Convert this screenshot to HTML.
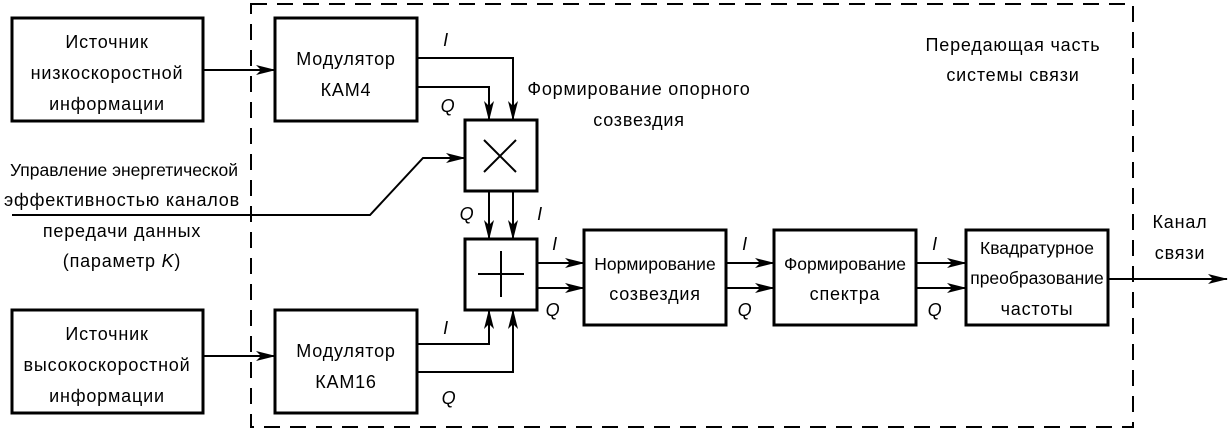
<!DOCTYPE html>
<html><head><meta charset="utf-8"><style>
html,body{margin:0;padding:0;background:#fff}
svg text{font-family:"Liberation Sans",sans-serif;font-size:18px;letter-spacing:0.8px;fill:#000}
svg text.t{letter-spacing:0px;font-size:17.5px}
</style></head><body>
<svg width="1229" height="431" xmlns="http://www.w3.org/2000/svg">
<defs><marker id="a" markerWidth="20" markerHeight="10" refX="19" refY="5" orient="auto" markerUnits="userSpaceOnUse"><path d="M0,0 L20,5 L0,10 L5,5 Z" fill="#000"/></marker></defs>
<rect x="251" y="4" width="882" height="423" fill="none" stroke="#000" stroke-width="2" stroke-dasharray="16,10"/>
<g fill="none" stroke="#000" stroke-width="3">
<rect x="12" y="18" width="191" height="103"/>
<rect x="275" y="18" width="142" height="103"/>
<rect x="465" y="120" width="72" height="71"/>
<rect x="465" y="239" width="72" height="71"/>
<rect x="584" y="230" width="142" height="95"/>
<rect x="774" y="230" width="142" height="95"/>
<rect x="966" y="230" width="142" height="95"/>
<rect x="12" y="310" width="191" height="103"/>
<rect x="275" y="310" width="142" height="103"/>
</g>
<g stroke="#000" stroke-width="2" fill="none">
<path d="M484,140 L516,172 M516,140 L484,172"/>
<path d="M478,274 L524,274 M501,251 L501,297"/>
<path d="M203,70 L275,70" marker-end="url(#a)"/>
<path d="M203,356 L275,356" marker-end="url(#a)"/>
<path d="M417,58 L513,58 L513,120" marker-end="url(#a)"/>
<path d="M417,87 L489,87 L489,120" marker-end="url(#a)"/>
<path d="M12,215 L370,215 L423,158 L465,158" marker-end="url(#a)"/>
<path d="M489,191 L489,239" marker-end="url(#a)"/>
<path d="M513,191 L513,239" marker-end="url(#a)"/>
<path d="M417,344 L489,344 L489,310" marker-end="url(#a)"/>
<path d="M417,372 L513,372 L513,310" marker-end="url(#a)"/>
<path d="M537,263 L584,263" marker-end="url(#a)"/>
<path d="M537,288 L584,288" marker-end="url(#a)"/>
<path d="M726,263 L774,263" marker-end="url(#a)"/>
<path d="M726,288 L774,288" marker-end="url(#a)"/>
<path d="M916,263 L966,263" marker-end="url(#a)"/>
<path d="M916,288 L966,288" marker-end="url(#a)"/>
<path d="M1108,279 L1227,279" marker-end="url(#a)"/>
</g>
<g text-anchor="middle">
<text x="107" y="48">Источник</text><text x="107" y="79">низкоскоростной</text><text x="107" y="110">информации</text>
<text x="346" y="65">Модулятор</text><text x="346" y="96">КАМ4</text>
<text x="639" y="95">Формирование опорного</text><text x="639" y="126">созвездия</text>
<text x="1013" y="51">Передающая часть</text><text x="1013" y="81">системы связи</text>
<text x="124" y="176" class="t">Управление энергетической</text><text x="122" y="206">эффективностью каналов</text>
<text x="122" y="237">передачи данных</text><text x="122" y="267">(параметр <tspan font-style="italic">K</tspan>)</text>
<text x="655" y="270" class="t">Нормирование</text><text x="655" y="300">созвездия</text>
<text x="845" y="270" class="t">Формирование</text><text x="845" y="300">спектра</text>
<text x="1037" y="254" class="t">Квадратурное</text><text x="1037" y="284" class="t">преобразование</text><text x="1037" y="315">частоты</text>
<text x="1180" y="228">Канал</text><text x="1180" y="259">связи</text>
<text x="107" y="340">Источник</text><text x="107" y="371">высокоскоростной</text><text x="107" y="402">информации</text>
<text x="346" y="357">Модулятор</text><text x="346" y="388">КАМ16</text>
</g>
<g text-anchor="middle">
<text x="446" y="46" style="font-style:italic">I</text><text x="448" y="112" style="font-style:italic">Q</text>
<text x="467" y="220" style="font-style:italic">Q</text><text x="540" y="220" style="font-style:italic">I</text>
<text x="555" y="250" style="font-style:italic">I</text><text x="553" y="316" style="font-style:italic">Q</text>
<text x="745" y="250" style="font-style:italic">I</text><text x="745" y="316" style="font-style:italic">Q</text>
<text x="935" y="250" style="font-style:italic">I</text><text x="935" y="316" style="font-style:italic">Q</text>
<text x="446" y="334" style="font-style:italic">I</text><text x="449" y="404" style="font-style:italic">Q</text>
</g>
</svg>
</body></html>
